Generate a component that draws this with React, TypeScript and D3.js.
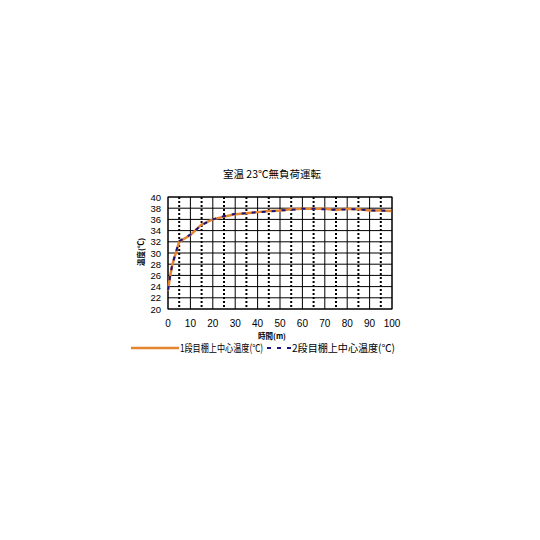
import React, { useEffect, useRef } from 'react';
import * as d3 from 'd3';

// minutes
const times = [0, 1, 2, 3.5, 5, 10, 15, 20, 25, 30, 35, 40, 45, 50, 55, 60, 65, 70, 75, 80, 85, 90, 95, 100];
// 1段目 (orange, solid)
const shelf1 = [23.3, 26.0, 28.0, 30.0, 32.0, 33.2, 35.1, 36.0, 36.5, 36.9, 37.1, 37.3, 37.5, 37.6, 37.8, 37.9, 37.9, 37.9, 37.7, 37.9, 37.8, 37.6, 37.6, 37.5];
// 2段目 (navy, dashed)
const shelf2 = [23.4, 26.0, 28.1, 30.1, 32.1, 33.3, 35.0, 36.0, 36.6, 37.0, 37.1, 37.3, 37.4, 37.6, 37.7, 37.9, 37.9, 37.8, 37.7, 37.8, 37.8, 37.6, 37.6, 37.5];

const xTicks = [0, 10, 20, 30, 40, 50, 60, 70, 80, 90, 100];
const xMinor = [5, 15, 25, 35, 45, 55, 65, 75, 85, 95];
const yTicks = [20, 22, 24, 26, 28, 30, 32, 34, 36, 38, 40];

const title = '室温 23℃無負荷運転';
const xTitle = '時間(m)';
const yTitle = '温度(℃)';
const seriesNames = ['1段目棚上中心温度(℃)', '2段目棚上中心温度(℃)'];

const FONT = '"Noto Sans CJK JP", sans-serif';
const NUM_FONT = '"Liberation Sans", Arial, sans-serif';
const ORANGE = '#E3852F';
const NAVY = '#1B1580';

const App: React.FC = () => {
  const ref = useRef<SVGSVGElement | null>(null);

  useEffect(() => {
    if (!ref.current) return;
    const svg = d3.select(ref.current);
    svg.selectAll('*').remove();

    const x = d3.scaleLinear().domain([0, 100]).range([168, 392]);
    const y = d3.scaleLinear().domain([20, 40]).range([309, 197]);

    // background
    svg.append('rect').attr('width', 540).attr('height', 540).attr('fill', '#fff');

    // title
    svg.append('text')
      .attr('x', 272).attr('y', 178)
      .attr('text-anchor', 'middle')
      .style('font-family', FONT).style('font-size', '10.5px')
      .text(title);

    // horizontal gridlines
    svg.append('g').selectAll('line').data(yTicks).enter().append('line')
      .attr('x1', x(0)).attr('x2', x(100))
      .attr('y1', (d) => y(d)).attr('y2', (d) => y(d))
      .attr('stroke', '#000').attr('stroke-width', 1);

    // major vertical gridlines
    svg.append('g').selectAll('line').data(xTicks).enter().append('line')
      .attr('x1', (d) => x(d)).attr('x2', (d) => x(d))
      .attr('y1', y(20)).attr('y2', y(40))
      .attr('stroke', '#000').attr('stroke-width', 1);

    // minor (dotted) vertical gridlines
    svg.append('g').selectAll('line').data(xMinor).enter().append('line')
      .attr('x1', (d) => x(d)).attr('x2', (d) => x(d))
      .attr('y1', y(40)).attr('y2', y(20))
      .attr('stroke', '#000').attr('stroke-width', 2)
      .attr('stroke-dasharray', '2,2');

    // plot border
    svg.append('rect')
      .attr('x', x(0)).attr('y', y(40))
      .attr('width', x(100) - x(0)).attr('height', y(20) - y(40))
      .attr('fill', 'none').attr('stroke', '#000');

    // y tick labels
    svg.append('g').selectAll('text').data(yTicks).enter().append('text')
      .attr('x', 161).attr('y', (d) => y(d) + 3.5)
      .attr('text-anchor', 'end')
      .style('font-family', NUM_FONT).style('font-size', '9.5px')
      .text((d) => d);

    // x tick labels
    svg.append('g').selectAll('text').data(xTicks).enter().append('text')
      .attr('x', (d) => x(d)).attr('y', 327)
      .attr('text-anchor', 'middle')
      .style('font-family', NUM_FONT).style('font-size', '10px')
      .text((d) => d);

    // axis titles
    svg.append('text')
      .attr('x', 272).attr('y', 339)
      .attr('text-anchor', 'middle')
      .style('font-family', FONT).style('font-size', '7.5px').style('font-weight', 'bold')
      .text(xTitle);

    svg.append('text')
      .attr('transform', 'translate(144,252) rotate(-90)')
      .attr('text-anchor', 'middle')
      .style('font-family', FONT).style('font-size', '7.5px').style('font-weight', 'bold')
      .text(yTitle);

    // series lines
    const line = d3.line<number>()
      .x((_, i) => x(times[i]))
      .y((d) => y(d));

    svg.append('path')
      .datum(shelf1)
      .attr('d', line)
      .attr('fill', 'none')
      .attr('stroke', ORANGE)
      .attr('stroke-width', 2.5);

    svg.append('path')
      .datum(shelf2)
      .attr('d', line)
      .attr('fill', 'none')
      .attr('stroke', NAVY)
      .attr('stroke-width', 2)
      .attr('stroke-dasharray', '4,6');

    // legend
    const legend = svg.append('g');
    legend.append('line')
      .attr('x1', 131).attr('x2', 179).attr('y1', 348).attr('y2', 348)
      .attr('stroke', ORANGE).attr('stroke-width', 2.5);
    legend.append('text')
      .attr('x', 180).attr('y', 352)
      .attr('textLength', 83).attr('lengthAdjust', 'spacingAndGlyphs')
      .style('font-family', FONT).style('font-size', '10.5px')
      .text(seriesNames[0]);
    legend.append('line')
      .attr('x1', 267).attr('x2', 292).attr('y1', 348).attr('y2', 348)
      .attr('stroke', NAVY).attr('stroke-width', 2)
      .attr('stroke-dasharray', '4,6');
    legend.append('text')
      .attr('x', 292).attr('y', 352)
      .attr('textLength', 103).attr('lengthAdjust', 'spacingAndGlyphs')
      .style('font-family', FONT).style('font-size', '10.5px')
      .text(seriesNames[1]);
  }, []);

  return (
    <svg
      ref={ref}
      width={540}
      height={540}
      style={{ position: 'absolute', left: 0, top: 0 }}
    />
  );
};

export default App;
